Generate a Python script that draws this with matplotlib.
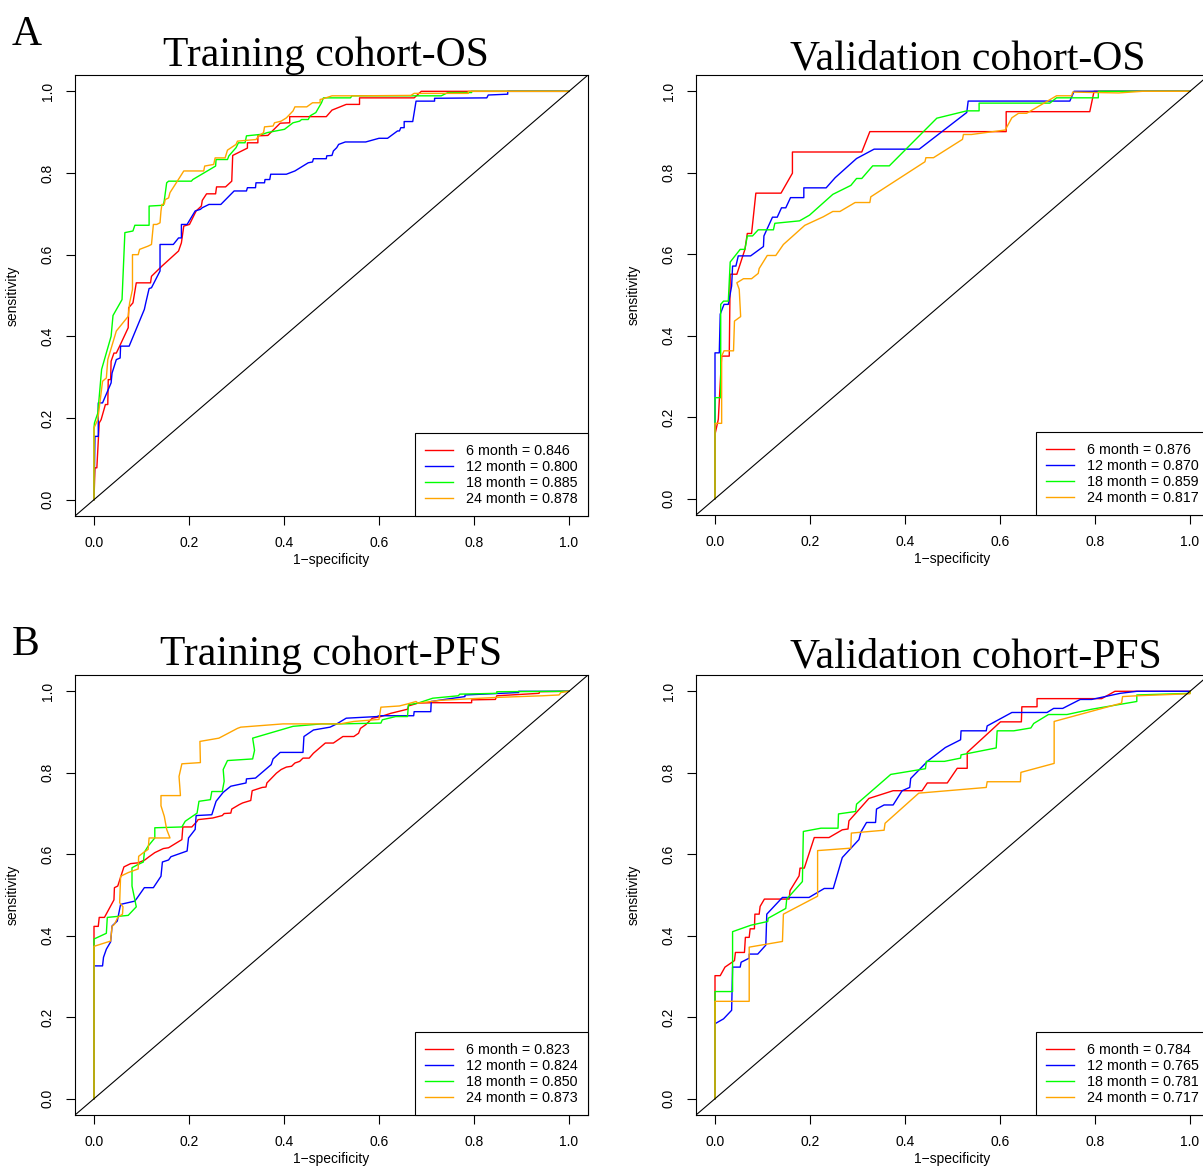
import numpy as np
import matplotlib.pyplot as plt
from matplotlib.ticker import FormatStrFormatter

plt.rcParams['font.family'] = ['Liberation Sans', 'DejaVu Sans']

months = ['6 month', '12 month', '18 month', '24 month']
colors = ['#FF0000', '#0000FF', '#00FF00', '#FFA500']
titles = ['Training cohort-OS', 'Validation cohort-OS',
          'Training cohort-PFS', 'Validation cohort-PFS']

auc_train_os = [0.846, 0.800, 0.885, 0.878]
auc_valid_os = [0.876, 0.870, 0.859, 0.817]
auc_train_pfs = [0.823, 0.824, 0.850, 0.873]
auc_valid_pfs = [0.784, 0.765, 0.781, 0.717]

# (1-specificity, sensitivity) points
train_os_6 = [(0, 0), (0.002, 0.078), (0.006, 0.078), (0.011, 0.188), (0.015, 0.196), (0.024, 0.233),
              (0.029, 0.233), (0.030, 0.294), (0.035, 0.294), (0.036, 0.339), (0.042, 0.359), (0.047, 0.359),
              (0.054, 0.376), (0.072, 0.421), (0.073, 0.470), (0.082, 0.482), (0.089, 0.531), (0.119, 0.531),
              (0.121, 0.547), (0.143, 0.572), (0.178, 0.609), (0.184, 0.629), (0.189, 0.670), (0.201, 0.674),
              (0.215, 0.707), (0.226, 0.719), (0.228, 0.733), (0.237, 0.749), (0.256, 0.749), (0.258, 0.766),
              (0.277, 0.766), (0.290, 0.780), (0.292, 0.843), (0.323, 0.861), (0.323, 0.874), (0.345, 0.874),
              (0.345, 0.891), (0.366, 0.892), (0.392, 0.922), (0.412, 0.923), (0.412, 0.938), (0.489, 0.938),
              (0.501, 0.954), (0.531, 0.968), (0.559, 0.968), (0.559, 0.984), (0.674, 0.984), (0.689, 1.0),
              (1.0, 1.0)]
train_os_12 = [(0, 0), (0.002, 0.155), (0.009, 0.155), (0.009, 0.237), (0.018, 0.237), (0.036, 0.286),
               (0.038, 0.310), (0.047, 0.343), (0.055, 0.347), (0.056, 0.376), (0.074, 0.376), (0.106, 0.466),
               (0.109, 0.482), (0.116, 0.517), (0.121, 0.519), (0.139, 0.560), (0.139, 0.625), (0.167, 0.625),
               (0.178, 0.641), (0.184, 0.641), (0.184, 0.674), (0.196, 0.674), (0.213, 0.707), (0.224, 0.711),
               (0.228, 0.715), (0.242, 0.723), (0.267, 0.723), (0.295, 0.756), (0.321, 0.756), (0.323, 0.764),
               (0.340, 0.764), (0.341, 0.776), (0.359, 0.776), (0.360, 0.784), (0.370, 0.784), (0.372, 0.797),
               (0.405, 0.797), (0.423, 0.805), (0.451, 0.825), (0.460, 0.827), (0.462, 0.835), (0.489, 0.835),
               (0.490, 0.842), (0.501, 0.843), (0.504, 0.854), (0.511, 0.862), (0.515, 0.870), (0.529, 0.876),
               (0.572, 0.876), (0.600, 0.885), (0.618, 0.885), (0.639, 0.903), (0.643, 0.903), (0.646, 0.911),
               (0.653, 0.911), (0.653, 0.926), (0.671, 0.926), (0.678, 0.976), (0.717, 0.976), (0.717, 0.983),
               (0.827, 0.984), (0.830, 0.991), (0.871, 0.993), (0.871, 1.0), (1.0, 1.0)]
train_os_18 = [(0, 0), (0, 0.176), (0.001, 0.188), (0.008, 0.212), (0.016, 0.319), (0.036, 0.400),
               (0.040, 0.451), (0.059, 0.490), (0.065, 0.654), (0.082, 0.658), (0.086, 0.672), (0.116, 0.672),
               (0.116, 0.719), (0.146, 0.721), (0.148, 0.733), (0.153, 0.776), (0.157, 0.780), (0.205, 0.780),
               (0.208, 0.784), (0.256, 0.817), (0.257, 0.833), (0.281, 0.833), (0.284, 0.842), (0.299, 0.862),
               (0.304, 0.874), (0.318, 0.874), (0.321, 0.891), (0.355, 0.895), (0.365, 0.899), (0.401, 0.907),
               (0.419, 0.923), (0.433, 0.927), (0.437, 0.931), (0.451, 0.931), (0.455, 0.940), (0.467, 0.948),
               (0.479, 0.972), (0.483, 0.984), (0.540, 0.984), (0.543, 0.989), (0.731, 0.989), (0.745, 0.997),
               (0.795, 0.997), (0.795, 1.0), (1.0, 1.0)]
train_os_24 = [(0, 0), (0, 0.176), (0.008, 0.196), (0.018, 0.290), (0.026, 0.298), (0.029, 0.343),
               (0.047, 0.413), (0.072, 0.449), (0.075, 0.482), (0.081, 0.515), (0.081, 0.600), (0.093, 0.600),
               (0.096, 0.613), (0.114, 0.621), (0.121, 0.625), (0.125, 0.674), (0.132, 0.674), (0.139, 0.678),
               (0.141, 0.707), (0.143, 0.723), (0.148, 0.724), (0.150, 0.735), (0.157, 0.739), (0.160, 0.752),
               (0.182, 0.792), (0.189, 0.805), (0.231, 0.805), (0.233, 0.817), (0.252, 0.821), (0.255, 0.837),
               (0.276, 0.837), (0.281, 0.856), (0.299, 0.870), (0.302, 0.878), (0.341, 0.882), (0.347, 0.891),
               (0.357, 0.899), (0.359, 0.913), (0.377, 0.915), (0.380, 0.923), (0.394, 0.927), (0.405, 0.935),
               (0.419, 0.952), (0.423, 0.962), (0.448, 0.962), (0.460, 0.972), (0.476, 0.972), (0.476, 0.980),
               (0.483, 0.982), (0.501, 0.989), (0.554, 0.989), (0.667, 0.990), (0.674, 0.995), (0.788, 0.995),
               (0.788, 1.0), (1.0, 1.0)]

valid_os_6 = [(0, 0), (0, 0.158), (0.007, 0.195), (0.014, 0.350), (0.030, 0.350), (0.032, 0.551),
              (0.046, 0.551), (0.063, 0.612), (0.068, 0.651), (0.077, 0.651), (0.086, 0.750), (0.139, 0.750),
              (0.163, 0.799), (0.163, 0.851), (0.309, 0.851), (0.326, 0.901), (0.613, 0.901), (0.613, 0.950),
              (0.789, 0.950), (0.798, 1.0), (1.0, 1.0)]
valid_os_12 = [(0, 0), (0, 0.248), (0, 0.358), (0.009, 0.358), (0.011, 0.453), (0.019, 0.477),
               (0.028, 0.477), (0.035, 0.522), (0.037, 0.571), (0.044, 0.571), (0.049, 0.596), (0.075, 0.596),
               (0.102, 0.619), (0.103, 0.645), (0.121, 0.691), (0.131, 0.691), (0.140, 0.714), (0.149, 0.714),
               (0.159, 0.739), (0.187, 0.739), (0.187, 0.763), (0.234, 0.763), (0.253, 0.788), (0.298, 0.835),
               (0.335, 0.858), (0.430, 0.858), (0.530, 0.948), (0.533, 0.976), (0.747, 0.976), (0.756, 1.0),
               (1.0, 1.0)]
valid_os_18 = [(0, 0), (0, 0.187), (0, 0.248), (0.012, 0.248), (0.012, 0.477), (0.018, 0.485),
               (0.028, 0.485), (0.032, 0.581), (0.053, 0.612), (0.063, 0.612), (0.068, 0.645), (0.079, 0.645),
               (0.091, 0.660), (0.123, 0.660), (0.126, 0.676), (0.178, 0.682), (0.199, 0.696), (0.248, 0.747),
               (0.286, 0.769), (0.298, 0.786), (0.309, 0.786), (0.332, 0.817), (0.367, 0.817), (0.467, 0.934),
               (0.530, 0.952), (0.556, 0.952), (0.556, 0.971), (0.705, 0.971), (0.719, 0.984), (0.807, 0.984),
               (0.807, 1.0), (1.0, 1.0)]
valid_os_24 = [(0, 0), (0, 0.185), (0.014, 0.185), (0.014, 0.350), (0.019, 0.363), (0.039, 0.363),
               (0.041, 0.436), (0.054, 0.447), (0.051, 0.514), (0.046, 0.530), (0.060, 0.540), (0.077, 0.540),
               (0.091, 0.553), (0.093, 0.565), (0.110, 0.597), (0.128, 0.597), (0.144, 0.624), (0.189, 0.671),
               (0.228, 0.692), (0.248, 0.705), (0.263, 0.705), (0.295, 0.727), (0.326, 0.727), (0.328, 0.741),
               (0.442, 0.827), (0.444, 0.837), (0.460, 0.837), (0.521, 0.882), (0.523, 0.894), (0.540, 0.894),
               (0.611, 0.905), (0.625, 0.935), (0.639, 0.946), (0.656, 0.946), (0.719, 0.989), (0.751, 0.989),
               (0.753, 0.998), (0.850, 0.996), (0.900, 1.0), (1.0, 1.0)]

train_pfs_6 = [(0, 0), (0, 0.392), (0, 0.423), (0.009, 0.423), (0.011, 0.445), (0.022, 0.445),
               (0.042, 0.488), (0.043, 0.518), (0.050, 0.522), (0.063, 0.569), (0.077, 0.577), (0.093, 0.579),
               (0.107, 0.586), (0.116, 0.594), (0.128, 0.604), (0.146, 0.614), (0.157, 0.616), (0.185, 0.636),
               (0.187, 0.667), (0.206, 0.667), (0.217, 0.681), (0.219, 0.685), (0.250, 0.689), (0.270, 0.695),
               (0.274, 0.700), (0.288, 0.701), (0.290, 0.711), (0.306, 0.722), (0.313, 0.726), (0.330, 0.732),
               (0.333, 0.756), (0.354, 0.764), (0.362, 0.765), (0.364, 0.775), (0.384, 0.799), (0.394, 0.808),
               (0.405, 0.814), (0.416, 0.816), (0.423, 0.824), (0.433, 0.828), (0.440, 0.836), (0.453, 0.836),
               (0.462, 0.848), (0.487, 0.873), (0.504, 0.873), (0.524, 0.889), (0.547, 0.889), (0.557, 0.897),
               (0.561, 0.909), (0.572, 0.918), (0.586, 0.934), (0.604, 0.938), (0.625, 0.946), (0.660, 0.956),
               (0.662, 0.964), (0.682, 0.971), (0.710, 0.972), (0.795, 0.972), (0.795, 0.979), (0.845, 0.980),
               (0.848, 0.989), (0.937, 0.995), (0.938, 0.999), (1.0, 1.0)]
train_pfs_12 = [(0, 0), (0, 0.326), (0.018, 0.326), (0.020, 0.347), (0.026, 0.367), (0.035, 0.385),
                (0.038, 0.424), (0.049, 0.436), (0.056, 0.477), (0.086, 0.485), (0.091, 0.493), (0.106, 0.518),
                (0.125, 0.518), (0.141, 0.546), (0.144, 0.581), (0.157, 0.586), (0.162, 0.594), (0.196, 0.608),
                (0.199, 0.640), (0.213, 0.661), (0.215, 0.695), (0.248, 0.697), (0.257, 0.730), (0.272, 0.752),
                (0.288, 0.767), (0.320, 0.775), (0.321, 0.785), (0.340, 0.787), (0.373, 0.820), (0.377, 0.834),
                (0.392, 0.850), (0.440, 0.850), (0.442, 0.889), (0.462, 0.905), (0.497, 0.912), (0.511, 0.920),
                (0.531, 0.934), (0.596, 0.938), (0.600, 0.940), (0.673, 0.940), (0.674, 0.950), (0.709, 0.950),
                (0.710, 0.975), (0.738, 0.980), (0.781, 0.987), (0.781, 0.991), (0.894, 0.997), (0.894, 1.0),
                (1.0, 1.0)]
train_pfs_18 = [(0, 0), (0, 0.377), (0, 0.392), (0.026, 0.406), (0.028, 0.445), (0.072, 0.450),
                (0.089, 0.471), (0.080, 0.522), (0.080, 0.567), (0.093, 0.575), (0.104, 0.581), (0.106, 0.605),
                (0.114, 0.620), (0.128, 0.640), (0.128, 0.665), (0.185, 0.667), (0.192, 0.681), (0.217, 0.701),
                (0.221, 0.730), (0.245, 0.734), (0.248, 0.754), (0.270, 0.754), (0.274, 0.779), (0.272, 0.808),
                (0.281, 0.830), (0.334, 0.834), (0.338, 0.855), (0.334, 0.885), (0.419, 0.914), (0.479, 0.920),
                (0.518, 0.920), (0.604, 0.922), (0.607, 0.930), (0.635, 0.938), (0.660, 0.938), (0.662, 0.967),
                (0.682, 0.971), (0.713, 0.983), (0.767, 0.989), (0.770, 0.993), (0.848, 0.995), (0.848, 0.999),
                (1.0, 1.0)]
train_pfs_24 = [(0, 0), (0, 0.374), (0.035, 0.387), (0.038, 0.423), (0.043, 0.428), (0.050, 0.445),
                (0.060, 0.453), (0.061, 0.471), (0.054, 0.481), (0.056, 0.546), (0.072, 0.555), (0.093, 0.564),
                (0.094, 0.595), (0.104, 0.604), (0.114, 0.612), (0.116, 0.640), (0.160, 0.640), (0.153, 0.661),
                (0.148, 0.693), (0.141, 0.719), (0.141, 0.744), (0.182, 0.744), (0.179, 0.791), (0.185, 0.822),
                (0.224, 0.825), (0.223, 0.877), (0.263, 0.885), (0.302, 0.909), (0.309, 0.912), (0.398, 0.920),
                (0.518, 0.920), (0.547, 0.926), (0.600, 0.931), (0.604, 0.961), (0.643, 0.964), (0.660, 0.969),
                (0.678, 0.975), (0.682, 0.971), (0.731, 0.978), (0.848, 0.985), (0.944, 0.989), (0.979, 0.991),
                (0.983, 0.997), (1.0, 1.0)]

valid_pfs_6 = [(0, 0), (0, 0.302), (0.011, 0.302), (0.021, 0.323), (0.041, 0.339), (0.043, 0.359),
               (0.062, 0.359), (0.064, 0.396), (0.072, 0.396), (0.074, 0.417), (0.083, 0.417), (0.084, 0.453),
               (0.093, 0.453), (0.095, 0.472), (0.104, 0.490), (0.156, 0.490), (0.158, 0.511), (0.177, 0.547),
               (0.179, 0.566), (0.188, 0.566), (0.209, 0.641), (0.240, 0.641), (0.268, 0.660), (0.280, 0.662),
               (0.282, 0.682), (0.324, 0.737), (0.375, 0.756), (0.436, 0.756), (0.447, 0.775), (0.489, 0.775),
               (0.510, 0.811), (0.531, 0.811), (0.531, 0.850), (0.601, 0.925), (0.645, 0.925), (0.646, 0.962),
               (0.678, 0.962), (0.678, 0.982), (0.814, 0.982), (0.842, 1.0), (1.0, 1.0)]
valid_pfs_12 = [(0, 0), (0, 0.184), (0.018, 0.196), (0.035, 0.217), (0.037, 0.323), (0.053, 0.323),
                (0.055, 0.335), (0.072, 0.345), (0.072, 0.355), (0.090, 0.355), (0.107, 0.377), (0.109, 0.453),
                (0.142, 0.494), (0.198, 0.494), (0.230, 0.516), (0.249, 0.516), (0.268, 0.592), (0.303, 0.636),
                (0.307, 0.654), (0.319, 0.678), (0.338, 0.678), (0.340, 0.711), (0.356, 0.721), (0.375, 0.721),
                (0.394, 0.756), (0.410, 0.764), (0.412, 0.786), (0.448, 0.829), (0.485, 0.862), (0.517, 0.881),
                (0.518, 0.903), (0.571, 0.903), (0.573, 0.915), (0.625, 0.948), (0.699, 0.948), (0.713, 0.958),
                (0.732, 0.958), (0.769, 0.980), (0.793, 0.980), (0.853, 0.995), (0.888, 1.0), (1.0, 1.0)]
valid_pfs_18 = [(0, 0), (0, 0.263), (0.037, 0.263), (0.037, 0.410), (0.076, 0.426), (0.111, 0.435),
                (0.112, 0.443), (0.149, 0.467), (0.151, 0.490), (0.184, 0.533), (0.186, 0.656), (0.223, 0.664),
                (0.259, 0.664), (0.260, 0.699), (0.296, 0.705), (0.298, 0.723), (0.370, 0.796), (0.443, 0.810),
                (0.445, 0.828), (0.483, 0.828), (0.517, 0.836), (0.518, 0.844), (0.592, 0.861), (0.594, 0.903),
                (0.629, 0.903), (0.665, 0.910), (0.671, 0.921), (0.702, 0.943), (0.741, 0.943), (0.793, 0.956),
                (0.888, 0.975), (0.888, 0.991), (1.0, 0.995), (1.0, 1.0)]
valid_pfs_24 = [(0, 0), (0, 0.239), (0.072, 0.239), (0.072, 0.372), (0.142, 0.386), (0.144, 0.453),
                (0.216, 0.497), (0.216, 0.609), (0.286, 0.615), (0.287, 0.652), (0.356, 0.659), (0.358, 0.676),
                (0.429, 0.750), (0.571, 0.764), (0.573, 0.778), (0.643, 0.778), (0.644, 0.801), (0.714, 0.823),
                (0.714, 0.926), (0.856, 0.971), (0.858, 0.987), (0.888, 0.989), (1.0, 0.994), (1.0, 1.0)]

panels = [
    ([train_os_6, train_os_12, train_os_18, train_os_24], auc_train_os),
    ([valid_os_6, valid_os_12, valid_os_18, valid_os_24], auc_valid_os),
    ([train_pfs_6, train_pfs_12, train_pfs_18, train_pfs_24], auc_train_pfs),
    ([valid_pfs_6, valid_pfs_12, valid_pfs_18, valid_pfs_24], auc_valid_pfs),
]

W, H = 1203, 1167
fig = plt.figure(figsize=(W / 100, H / 100), dpi=100)

# pixel boxes of the four plot regions: left, top, width, height
boxes = [(75, 75, 513, 441), (696, 75, 513, 440), (75, 675, 513, 440), (696, 675, 513, 440)]
# title centre x and baseline y, in pixels
title_pos = [(326, 66), (968, 69), (331, 665), (976, 667)]

for i, (curves, aucs) in enumerate(panels):
    l, t, w, h = boxes[i]
    ax = fig.add_axes([l / W, 1 - (t + h) / H, w / W, h / H])
    for pts, c, m, a in zip(curves, colors, months, aucs):
        xs = [p[0] for p in pts]
        ys = [p[1] for p in pts]
        ax.plot(xs, ys, color=c, lw=1.0, label='%s = %.3f' % (m, a))
    ax.axline((0, 0), (1, 1), color='black', lw=0.8)
    ax.set_xlim(-0.04, 1.04)
    ax.set_ylim(-0.04, 1.04)
    ax.set_xticks(np.arange(0, 1.01, 0.2))
    ax.set_yticks(np.arange(0, 1.01, 0.2))
    ax.xaxis.set_major_formatter(FormatStrFormatter('%.1f'))
    ax.yaxis.set_major_formatter(FormatStrFormatter('%.1f'))
    ax.tick_params(direction='out', length=6.5, width=0.8, labelsize=10, pad=8, colors='black')
    ax.tick_params(axis='y', labelrotation=90)
    for lab in ax.get_yticklabels():
        lab.set_va('center')
    for sp in ax.spines.values():
        sp.set_linewidth(0.8)
    ax.set_xlabel('1\u2212specificity', fontsize=10)
    ax.set_ylabel('sensitivity', fontsize=10)
    ax.xaxis.set_label_coords(0.5, -0.085)
    ax.yaxis.set_label_coords(-0.107, 0.5)
    leg = ax.legend(loc='lower right', borderaxespad=0, fancybox=False, edgecolor='black',
                    framealpha=1, fontsize=10.3, handlelength=1.95, handletextpad=0.9,
                    labelspacing=0.14, borderpad=0.72)
    leg.get_frame().set_linewidth(0.8)
    tx, ty = title_pos[i]
    fig.text(tx / W, 1 - ty / H, titles[i], family='Liberation Serif', fontsize=30,
             ha='center', va='baseline')

fig.text(12 / W, 1 - 45 / H, 'A', family='Liberation Serif', fontsize=30, va='baseline')
fig.text(12 / W, 1 - 655 / H, 'B', family='Liberation Serif', fontsize=30, va='baseline')

fig.savefig('out.png', dpi=100)
